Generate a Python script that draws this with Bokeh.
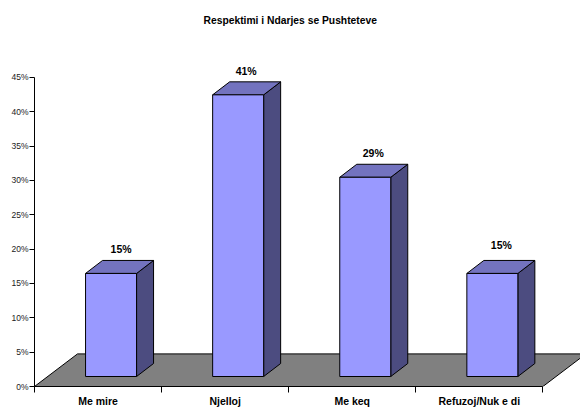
from bokeh.plotting import figure
from bokeh.models import FixedTicker, Range1d, Title
from bokeh.embed import file_html
from bokeh.resources import INLINE
from bokeh.core.properties import value

title = "Respektimi i Ndarjes se Pushteteve"
categories = ["Me mire", "Njelloj", "Me keq", "Refuzoj/Nuk e di"]
values = [15, 41, 29, 15]
value_labels = ["15%", "41%", "29%", "15%"]
y_ticks = [0, 5, 10, 15, 20, 25, 30, 35, 40, 45]

FRONT, SIDE, TOP, FLOOR = "#9999FF", "#4C4C80", "#7373BF", "#808080"
FONT = "Liberation Sans"

L, R, T, B = 34, 0, 42, 22
W, H = 580, 408
fw, fh = W - L - R, H - T - B
PX_X = 127.1          # pixels per category
PX_Y = 6.87           # pixels per percent

p = figure(width=W, height=H, output_backend="svg", toolbar_location=None,
           frame_width=fw, frame_height=fh,
           x_range=Range1d(0, fw / PX_X), y_range=Range1d(0, fh / PX_Y),
           min_border_left=L, min_border_right=R, min_border_top=T, min_border_bottom=B,
           outline_line_color=None, background_fill_color="white")
p.grid.visible = False

p.title = Title(text=title, text_font=FONT, text_font_size="10.3px", text_font_style="bold",
                text_color="black", align="left", offset=169, standoff=29, vertical_align="top")

# y axis
ya = p.yaxis[0]
ya.ticker = FixedTicker(ticks=y_ticks)
ya.major_label_overrides = {t: f"{t}%" for t in y_ticks}
ya.bounds = (0, 45)
ya.major_tick_in = 0
ya.major_tick_out = 5
ya.minor_tick_in = ya.minor_tick_out = 0
ya.major_label_standoff = 1
ya.major_label_text_font = FONT
ya.major_label_text_font_size = "8.5px"
ya.major_label_text_color = "#222222"
ya.axis_line_color = "black"
ya.major_tick_line_color = "black"

# x axis: labels at category centres, ticks at category boundaries
xa = p.xaxis[0]
centres = [i + 0.5 for i in range(len(categories))]
xa.ticker = FixedTicker(ticks=centres, minor_ticks=list(range(len(categories) + 1)))
xa.major_label_overrides = {c: n for c, n in zip(centres, categories)}
xa.bounds = (0, len(categories))
xa.major_tick_in = xa.major_tick_out = 0
xa.minor_tick_in = 0
xa.minor_tick_out = 6
xa.major_label_standoff = 2
xa.major_label_text_font = FONT
xa.major_label_text_font_size = "10.5px"
xa.major_label_text_font_style = "bold"
xa.major_label_text_color = "black"
xa.axis_line_color = "black"
xa.minor_tick_line_color = "black"

# 3-D geometry, in data units
floor_dx, floor_dy = 43 / PX_X, 32.6 / PX_Y
bar_dx, bar_dy = 13 / PX_X, 10 / PX_Y
depth_dx, depth_dy = 17 / PX_X, 13 / PX_Y
half = 25.5 / PX_X
n = len(categories)

p.patch([0, floor_dx, n + floor_dx, n], [0, floor_dy, floor_dy, 0],
        fill_color=FLOOR, line_color="black", line_width=1)

for i, v in enumerate(values):
    x0 = i + 0.5 + bar_dx - half
    x1 = i + 0.5 + bar_dx + half
    y0 = bar_dy
    y1 = bar_dy + v
    p.patch([x1, x1 + depth_dx, x1 + depth_dx, x1], [y0, y0 + depth_dy, y1 + depth_dy, y1],
            fill_color=SIDE, line_color="black", line_width=1)
    p.patch([x0, x0 + depth_dx, x1 + depth_dx, x1], [y1, y1 + depth_dy, y1 + depth_dy, y1],
            fill_color=TOP, line_color="black", line_width=1)
    p.quad(left=x0, right=x1, bottom=y0, top=y1,
           fill_color=FRONT, line_color="black", line_width=1)
    p.text([i + 0.5 + bar_dx], [y1], text=[value_labels[i]],
           x_offset=[[10, 8, 8, 9][i]], y_offset=[-24 if i != 3 else -28],
           text_font=value(FONT), text_font_size="10.5px", text_font_style="bold",
           text_color="black", text_align="center", text_baseline="middle")

open("out.html", "w").write(file_html(p, INLINE))
